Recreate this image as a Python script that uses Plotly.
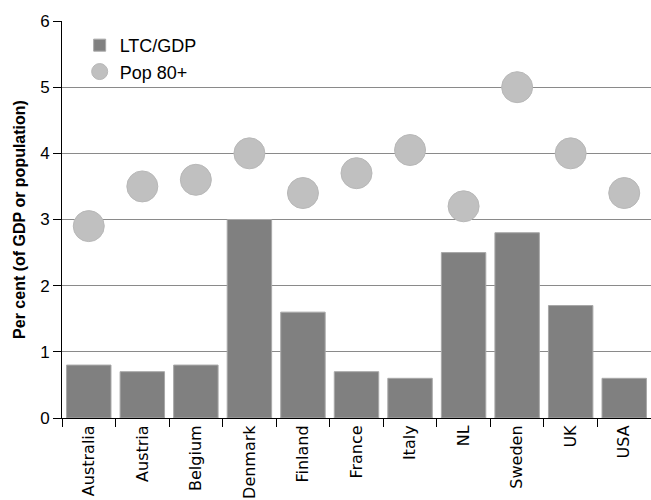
import plotly.graph_objects as go

countries = ["Australia", "Austria", "Belgium", "Denmark", "Finland", "France",
             "Italy", "NL", "Sweden", "UK", "USA"]
ltc_gdp = [0.8, 0.7, 0.8, 3.0, 1.6, 0.7, 0.6, 2.5, 2.8, 1.7, 0.6]
pop_80 = [2.9, 3.5, 3.6, 4.0, 3.4, 3.7, 4.05, 3.2, 5.0, 4.0, 3.4]
y_ticks = [0, 1, 2, 3, 4, 5, 6]

fig = go.Figure()
fig.add_trace(go.Bar(
    x=countries, y=ltc_gdp, name="LTC/GDP",
    marker=dict(color="#808080", line=dict(color="#a8a8a8", width=1)),
))
fig.add_trace(go.Scatter(
    x=countries, y=pop_80, name="Pop 80+", mode="markers",
    marker=dict(color="#c0c0c0", size=31, line=dict(color="#b8b8b8", width=1)),
))

fig.update_layout(
    width=651, height=500,
    margin=dict(l=62, r=0, t=21, b=82),
    paper_bgcolor="white", plot_bgcolor="white",
    bargap=0.17,
    font=dict(family="Liberation Sans, Arial, sans-serif", size=16, color="black"),
    showlegend=True,
    legend=dict(x=0.03, y=0.985, xanchor="left", yanchor="top",
                bgcolor="rgba(0,0,0,0)", font=dict(size=18), tracegroupgap=0,
                itemwidth=30),
    xaxis=dict(
        type="category", tickangle=-90, showline=True, linecolor="black",
        linewidth=1, ticks="outside", ticklen=8, tickcolor="black",
        tickson="boundaries", showgrid=False, range=[-0.5, 10.5],
        tickfont=dict(family="DejaVu Sans, sans-serif", size=16),
        automargin=False,
    ),
    yaxis=dict(
        range=[0, 6], tickvals=y_ticks, showline=True, linecolor="black",
        linewidth=1, ticks="outside", ticklen=8, tickcolor="black",
        showgrid=True, gridcolor="#8a8a8a", gridwidth=1, zeroline=False,
        tickfont=dict(size=17), automargin=False,
        title=dict(text="<b>Per cent (of GDP or population)</b>",
                   font=dict(size=16), standoff=10),
    ),
)

fig.write_html("out.html")
